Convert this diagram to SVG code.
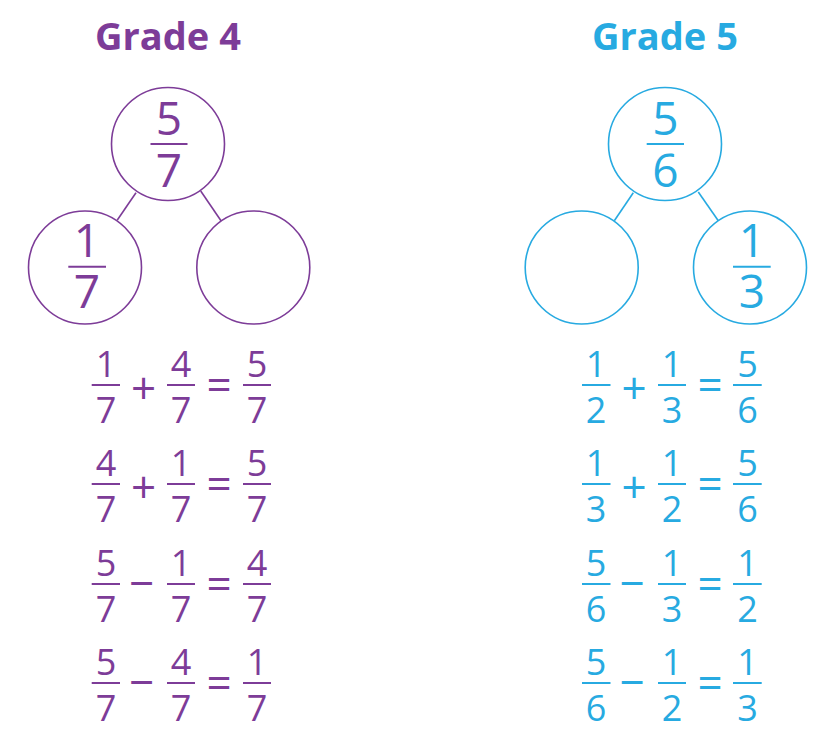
<svg xmlns="http://www.w3.org/2000/svg" width="828" height="750" viewBox="0 0 828 750">
<style>
.p{fill:#7D3C98}
.b{fill:#27AAE1}
.ps{stroke:#7D3C98}
.bs{stroke:#27AAE1}
.title{font-family:"Open Sans","Liberation Sans",sans-serif;font-weight:bold;font-size:38px;text-anchor:middle}
.n{font-family:"Open Sans","Liberation Sans",sans-serif;font-size:36px;text-anchor:middle}
.op{font-family:"Open Sans","Liberation Sans",sans-serif;font-size:44px;text-anchor:middle}
.mn{font-family:"Open Sans","Liberation Sans",sans-serif;font-size:44px;text-anchor:middle}
.nb{font-family:"Open Sans","Liberation Sans",sans-serif;font-size:46px;text-anchor:middle}
.c{fill:#fff;stroke-width:1.6}
.bar{stroke-width:2}
.ln{stroke-width:1.6}
</style>
<rect width="828" height="750" fill="#fff"/>
<text class="title p" x="168" y="50">Grade 4</text>
<text class="title b" x="665" y="50">Grade 5</text>
<g id="connectors" fill="none">
<line class="ps ln" x1="136" y1="192.7" x2="117.3" y2="220"/>
<line class="ps ln" x1="200.7" y1="191" x2="221" y2="220.7"/>
<line class="bs ln" x1="633.3" y1="192.7" x2="614.3" y2="220.7"/>
<line class="bs ln" x1="698.3" y1="192" x2="718.3" y2="220.7"/>
</g>
<g id="g4-top"><circle class="c ps" cx="168" cy="144" r="56.5"/><text class="nb p" x="169" y="135">5</text><line class="ps bar" x1="150.5" y1="144" x2="187.5" y2="144"/><text class="nb p" x="169" y="186.7">7</text></g>
<g id="g4-left"><circle class="c ps" cx="85" cy="267.5" r="56.5"/><text class="nb p" x="87" y="256.7">1</text><line class="ps bar" x1="68.3" y1="266.7" x2="106" y2="266.7"/><text class="nb p" x="87" y="308">7</text></g>
<g id="g4-right"><circle class="c ps" cx="253.3" cy="267.5" r="56.5"/></g>
<g id="g5-top"><circle class="c bs" cx="665" cy="144" r="56.5"/><text class="nb b" x="665.5" y="135">5</text><line class="bs bar" x1="646.7" y1="144" x2="684" y2="144"/><text class="nb b" x="665.5" y="186.7">6</text></g>
<g id="g5-left"><circle class="c bs" cx="581.7" cy="267.5" r="56.5"/></g>
<g id="g5-right"><circle class="c bs" cx="750" cy="267.5" r="56.5"/><text class="nb b" x="752" y="256.7">1</text><line class="bs bar" x1="733" y1="266.7" x2="770.7" y2="266.7"/><text class="nb b" x="752" y="308">3</text></g>
<g id="g4-eqs">
<g id="g4-eq1">
<text class="n p" x="106" y="377.3">1</text><line class="ps bar" x1="91.7" y1="385" x2="120" y2="385"/><text class="n p" x="106" y="422.7">7</text>
<text class="op p" x="143.5" y="403.7">+</text>
<text class="n p" x="181" y="377.3">4</text><line class="ps bar" x1="167" y1="385" x2="195" y2="385"/><text class="n p" x="181" y="422.7">7</text>
<text class="op p" x="219" y="401.4">=</text>
<text class="n p" x="257" y="377.3">5</text><line class="ps bar" x1="243" y1="385" x2="271" y2="385"/><text class="n p" x="257" y="422.7">7</text>
</g>
<g id="g4-eq2">
<text class="n p" x="106" y="476.3">4</text><line class="ps bar" x1="91.7" y1="484" x2="120" y2="484"/><text class="n p" x="106" y="521.7">7</text>
<text class="op p" x="143.5" y="502.7">+</text>
<text class="n p" x="181" y="476.3">1</text><line class="ps bar" x1="167" y1="484" x2="195" y2="484"/><text class="n p" x="181" y="521.7">7</text>
<text class="op p" x="219" y="500.4">=</text>
<text class="n p" x="257" y="476.3">5</text><line class="ps bar" x1="243" y1="484" x2="271" y2="484"/><text class="n p" x="257" y="521.7">7</text>
</g>
<g id="g4-eq3">
<text class="n p" x="106" y="576.3">5</text><line class="ps bar" x1="91.7" y1="584" x2="120" y2="584"/><text class="n p" x="106" y="621.7">7</text>
<text class="mn p" x="141.7" y="598.7">−</text>
<text class="n p" x="181" y="576.3">1</text><line class="ps bar" x1="167" y1="584" x2="195" y2="584"/><text class="n p" x="181" y="621.7">7</text>
<text class="op p" x="219" y="600.4">=</text>
<text class="n p" x="257" y="576.3">4</text><line class="ps bar" x1="243" y1="584" x2="271" y2="584"/><text class="n p" x="257" y="621.7">7</text>
</g>
<g id="g4-eq4">
<text class="n p" x="106" y="675.3">5</text><line class="ps bar" x1="91.7" y1="683" x2="120" y2="683"/><text class="n p" x="106" y="720.7">7</text>
<text class="mn p" x="141.7" y="697.7">−</text>
<text class="n p" x="181" y="675.3">4</text><line class="ps bar" x1="167" y1="683" x2="195" y2="683"/><text class="n p" x="181" y="720.7">7</text>
<text class="op p" x="219" y="699.4">=</text>
<text class="n p" x="257" y="675.3">1</text><line class="ps bar" x1="243" y1="683" x2="271" y2="683"/><text class="n p" x="257" y="720.7">7</text>
</g>
</g>
<g id="g5-eqs">
<g id="g5-eq1">
<text class="n b" x="596" y="377.3">1</text><line class="bs bar" x1="582" y1="385" x2="610.5" y2="385"/><text class="n b" x="596" y="422.7">2</text>
<text class="op b" x="634" y="403.7">+</text>
<text class="n b" x="672" y="377.3">1</text><line class="bs bar" x1="658" y1="385" x2="686" y2="385"/><text class="n b" x="672" y="422.7">3</text>
<text class="op b" x="710" y="401.4">=</text>
<text class="n b" x="747.5" y="377.3">5</text><line class="bs bar" x1="733" y1="385" x2="761.7" y2="385"/><text class="n b" x="747.5" y="422.7">6</text>
</g>
<g id="g5-eq2">
<text class="n b" x="596" y="476.3">1</text><line class="bs bar" x1="582" y1="484" x2="610.5" y2="484"/><text class="n b" x="596" y="521.7">3</text>
<text class="op b" x="634" y="502.7">+</text>
<text class="n b" x="672" y="476.3">1</text><line class="bs bar" x1="658" y1="484" x2="686" y2="484"/><text class="n b" x="672" y="521.7">2</text>
<text class="op b" x="710" y="500.4">=</text>
<text class="n b" x="747.5" y="476.3">5</text><line class="bs bar" x1="733" y1="484" x2="761.7" y2="484"/><text class="n b" x="747.5" y="521.7">6</text>
</g>
<g id="g5-eq3">
<text class="n b" x="596" y="576.3">5</text><line class="bs bar" x1="582" y1="584" x2="610.5" y2="584"/><text class="n b" x="596" y="621.7">6</text>
<text class="mn b" x="632" y="598.7">−</text>
<text class="n b" x="672" y="576.3">1</text><line class="bs bar" x1="658" y1="584" x2="686" y2="584"/><text class="n b" x="672" y="621.7">3</text>
<text class="op b" x="710" y="600.4">=</text>
<text class="n b" x="747.5" y="576.3">1</text><line class="bs bar" x1="733" y1="584" x2="761.7" y2="584"/><text class="n b" x="747.5" y="621.7">2</text>
</g>
<g id="g5-eq4">
<text class="n b" x="596" y="675.3">5</text><line class="bs bar" x1="582" y1="683" x2="610.5" y2="683"/><text class="n b" x="596" y="720.7">6</text>
<text class="mn b" x="632" y="697.7">−</text>
<text class="n b" x="672" y="675.3">1</text><line class="bs bar" x1="658" y1="683" x2="686" y2="683"/><text class="n b" x="672" y="720.7">2</text>
<text class="op b" x="710" y="699.4">=</text>
<text class="n b" x="747.5" y="675.3">1</text><line class="bs bar" x1="733" y1="683" x2="761.7" y2="683"/><text class="n b" x="747.5" y="720.7">3</text>
</g>
</g>
</svg>
